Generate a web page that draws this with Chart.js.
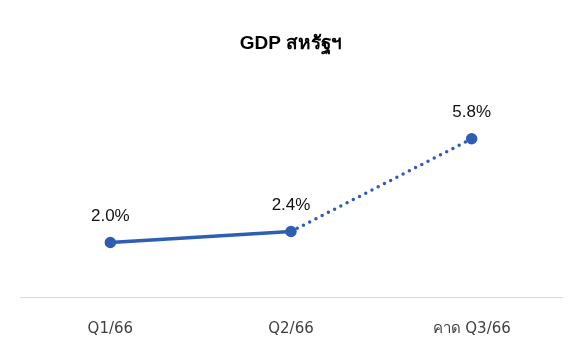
<!DOCTYPE html>
<html>
<head>
<meta charset="utf-8">
<script src="https://cdn.jsdelivr.net/npm/chart.js@4"></script>
<style>
  html, body { margin: 0; padding: 0; background: #fff; }
  #wrap { width: 585px; height: 353px; }
</style>
</head>
<body>
<div id="wrap"><canvas id="gdp"></canvas></div>
<script>
const quarters = ["Q1/66", "Q2/66", "คาด Q3/66"];
const gdpGrowth = [2.0, 2.4, 5.8];
const valueLabels = ["2.0%", "2.4%", "5.8%"];

const lineColor = "#2f5db2";

// draw the % labels above each point (no datalabels plugin here)
const pointLabels = {
  id: "pointLabels",
  afterDatasetsDraw(chart) {
    const ctx = chart.ctx;
    const meta = chart.getDatasetMeta(0);
    ctx.save();
    ctx.font = "17px 'Liberation Sans', Arial, sans-serif";
    ctx.fillStyle = "#111";
    ctx.textAlign = "center";
    ctx.textBaseline = "middle";
    meta.data.forEach((pt, i) => {
      ctx.fillText(valueLabels[i], pt.x, pt.y - 26);
    });
    ctx.restore();
  }
};

new Chart(document.getElementById("gdp"), {
  type: "line",
  data: {
    labels: quarters,
    datasets: [{
      data: gdpGrowth,
      borderColor: lineColor,
      backgroundColor: lineColor,
      borderWidth: 3.5,
      pointRadius: 4,
      pointHoverRadius: 4,
      tension: 0,
      segment: {
        // forecast part is dotted
        borderDash: (c) => c.p0DataIndex >= 1 ? [0, 7] : undefined
      },
      borderCapStyle: "round"
    }]
  },
  options: {
    responsive: true,
    maintainAspectRatio: false,
    animation: false,
    layout: { padding: { left: 20, right: 23, top: 0, bottom: 0 } },
    plugins: {
      legend: { display: false },
      tooltip: { enabled: false },
      title: {
        display: true,
        text: "GDP สหรัฐฯ",
        color: "#000",
        font: { size: 19, weight: "bold", family: "'Liberation Sans', Arial, sans-serif" },
        padding: { top: 32, bottom: 24 }
      }
    },
    scales: {
      x: {
        offset: true,
        grid: { display: false, drawTicks: false },
        border: { display: true, color: "#d9d9d9", width: 1 },
        ticks: {
          padding: 23,
          color: "#404040",
          font: { size: 15, family: "'DejaVu Sans', sans-serif" }
        },
        afterFit: (scale) => { scale.height = 56; }
      },
      y: {
        display: false,
        min: 0,
        max: 8
      }
    }
  },
  plugins: [pointLabels]
});
</script>
</body>
</html>
